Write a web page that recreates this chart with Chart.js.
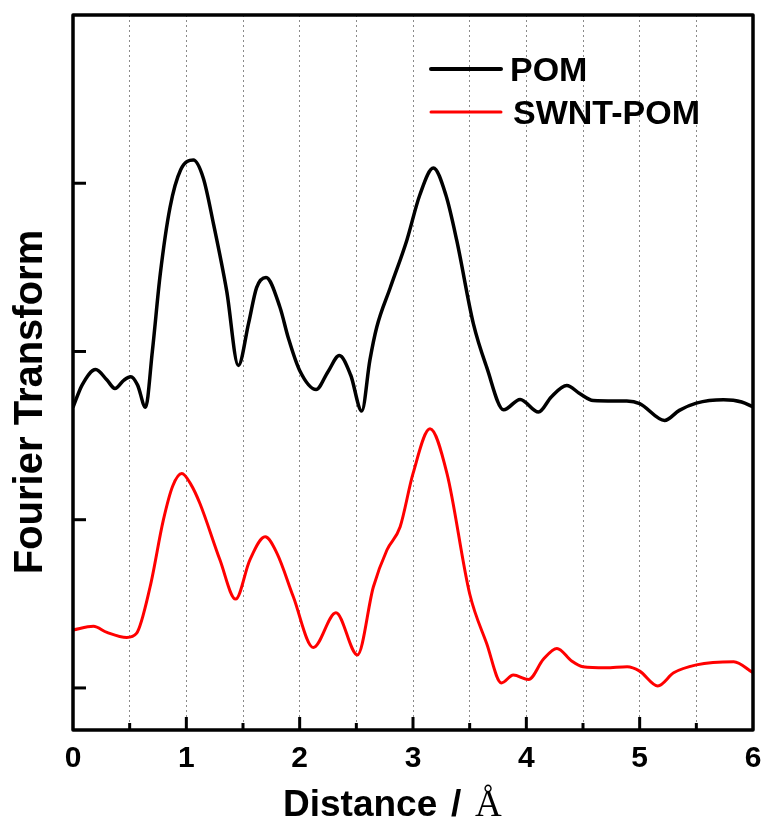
<!DOCTYPE html>
<html>
<head>
<meta charset="utf-8">
<script src="https://cdn.jsdelivr.net/npm/chart.js@4"></script>
<style>
  body { margin: 0; background: #fff; }
  #wrap { width: 768px; height: 823px; }
</style>
</head>
<body>
<div id="wrap"><canvas id="myChart"></canvas></div>
<script>
// POM curve (x in Å, y in arbitrary offset units)
const pomX = [0, 0.08, 0.2, 0.3, 0.37, 0.45, 0.51, 0.57, 0.64, 0.7, 0.77, 0.856, 0.95, 1.062, 1.15, 1.24, 1.356, 1.459,
  1.55, 1.62, 1.703, 1.826, 1.9, 2.0, 2.145, 2.25, 2.35, 2.45, 2.548, 2.62, 2.68, 2.8, 2.945, 3.06, 3.18, 3.29, 3.386,
  3.533, 3.65, 3.8, 3.945, 4.107, 4.22, 4.357, 4.47, 4.59, 4.886, 5.0, 5.22, 5.35, 5.5, 5.74, 5.9, 6.0];
const pomY = [1.668, 1.8, 1.893, 1.83, 1.78, 1.83, 1.85, 1.8, 1.668, 2.0, 2.46, 2.856, 3.08, 3.138, 3.03, 2.757, 2.36, 1.917,
  2.17, 2.38, 2.44, 2.263, 2.08, 1.887, 1.774, 1.88, 1.976, 1.86, 1.646, 1.95, 2.144, 2.38, 2.66, 2.93, 3.09, 2.93, 2.66,
  2.164, 1.907, 1.653, 1.715, 1.64, 1.73, 1.798, 1.75, 1.709, 1.705, 1.69, 1.59, 1.65, 1.693, 1.713, 1.7, 1.67];

// SWNT-POM curve
const swntX = [0, 0.18, 0.3, 0.474, 0.56, 0.68, 0.797, 0.88, 0.96, 1.04, 1.12, 1.297, 1.435, 1.56, 1.695, 1.8, 1.944,
  2.12, 2.32, 2.51, 2.65, 2.77, 2.886, 3.0, 3.15, 3.3, 3.5, 3.65, 3.78, 3.885, 4.02, 4.15, 4.27, 4.4, 4.5, 4.7, 4.89,
  5.0, 5.16, 5.3, 5.5, 5.83, 6.0];
const swntY = [0.344, 0.366, 0.33, 0.3, 0.324, 0.6, 0.997, 1.2, 1.274, 1.21, 1.096, 0.76, 0.528, 0.76, 0.898, 0.8, 0.542,
  0.24, 0.447, 0.196, 0.6, 0.82, 0.957, 1.274, 1.54, 1.274, 0.56, 0.264, 0.03, 0.077, 0.05, 0.17, 0.235, 0.16, 0.126, 0.12, 0.126,
  0.1, 0.012, 0.09, 0.137, 0.156, 0.09];

const xMajorTicks = [1, 2, 3, 4, 5];
const xMinorTicks = [0.5, 1.5, 2.5, 3.5, 4.5, 5.5];
const yTicks = [0, 1, 2, 3];

const seriesNames = ["POM", "SWNT-POM"];
const seriesColors = ["#000000", "#ff0000"];

function toPoints(xs, ys) {
  return xs.map((x, i) => ({ x: x, y: ys[i] }));
}

const framePlugin = {
  id: "frame",
  afterDraw(chart) {
    const ctx = chart.ctx;
    const a = chart.chartArea;
    const xs = chart.scales.x;
    const ys = chart.scales.y;
    ctx.save();
    ctx.strokeStyle = "#000";
    ctx.lineCap = "butt";

    // tick marks, pointing inward
    ctx.lineWidth = 3;
    xMajorTicks.forEach(v => {
      const px = xs.getPixelForValue(v);
      ctx.beginPath(); ctx.moveTo(px, a.bottom); ctx.lineTo(px, a.bottom - 13); ctx.stroke();
    });
    xMinorTicks.forEach(v => {
      const px = xs.getPixelForValue(v);
      ctx.beginPath(); ctx.moveTo(px, a.bottom); ctx.lineTo(px, a.bottom - 7); ctx.stroke();
    });
    yTicks.forEach(v => {
      const py = ys.getPixelForValue(v);
      ctx.beginPath(); ctx.moveTo(a.left, py); ctx.lineTo(a.left + 13, py); ctx.stroke();
    });

    // box
    ctx.lineWidth = 3.5;
    ctx.lineJoin = "round";
    ctx.strokeRect(a.left, a.top, a.right - a.left, a.bottom - a.top);

    // legend
    ctx.lineCap = "round";
    const legendY = [69, 112];
    seriesNames.forEach((name, i) => {
      ctx.strokeStyle = seriesColors[i];
      ctx.lineWidth = i === 0 ? 4 : 3;
      ctx.beginPath(); ctx.moveTo(431, legendY[i]); ctx.lineTo(501, legendY[i]); ctx.stroke();
      ctx.fillStyle = "#000";
      ctx.font = "bold 34px 'Liberation Sans', Arial, sans-serif";
      ctx.textAlign = "left";
      ctx.textBaseline = "alphabetic";
      ctx.fillText(name, i === 0 ? 510 : 513, legendY[i] + 12);
    });

    // axis titles
    ctx.fillStyle = "#000";
    ctx.font = "bold 37px 'Liberation Sans', Arial, sans-serif";
    ctx.textAlign = "left";
    ctx.textBaseline = "alphabetic";
    ctx.fillText("Distance", 283, 816);
    ctx.fillText("/", 451, 816);
    ctx.font = "37px 'Liberation Serif', 'Times New Roman', serif";
    ctx.fillText("Å", 475, 816);

    ctx.translate(42, 402);
    ctx.rotate(-Math.PI / 2);
    ctx.font = "bold 40px 'Liberation Sans', Arial, sans-serif";
    ctx.textAlign = "center";
    ctx.fillText("Fourier Transform", 0, 0);
    ctx.restore();
  }
};

const ctx = document.getElementById("myChart").getContext("2d");

const config = {
  type: "line",
  data: {
    datasets: [
      {
        label: seriesNames[0],
        data: toPoints(pomX, pomY),
        borderColor: seriesColors[0],
        borderWidth: 3.5,
        pointRadius: 0,
        cubicInterpolationMode: "monotone",
      },
      {
        label: seriesNames[1],
        data: toPoints(swntX, swntY),
        borderColor: seriesColors[1],
        borderWidth: 3,
        pointRadius: 0,
        cubicInterpolationMode: "monotone",
      },
    ],
  },
  options: {
    responsive: true,
    maintainAspectRatio: false,
    animation: false,
    layout: { padding: { top: 15, right: 15, left: 0, bottom: 0 } },
    plugins: {
      legend: { display: false },
      tooltip: { enabled: false },
    },
    scales: {
      x: {
        type: "linear",
        min: 0,
        max: 6,
        ticks: {
          stepSize: 0.5,
          autoSkip: false,
          maxRotation: 0,
          padding: 11,
          color: "#000",
          font: { family: "'Liberation Sans', Arial, sans-serif", size: 30, weight: "bold" },
          callback: v => (Number.isInteger(v) ? String(v) : ""),
        },
        grid: {
          drawTicks: false,
          lineWidth: 1,
          color: c => (c.tick && (c.tick.value === 0 || c.tick.value === 6) ? "rgba(0,0,0,0)" : "#8a8a8a"),
        },
        border: { display: false, dash: [2, 3] },
        afterFit: s => { s.height = 93; s.paddingLeft = 0; s.paddingRight = 0; },
      },
      y: {
        type: "linear",
        min: -0.25,
        max: 4,
        ticks: { display: false, stepSize: 1 },
        grid: { display: false, drawTicks: false },
        border: { display: false },
        afterFit: s => { s.width = 73; },
      },
    },
  },
  plugins: [framePlugin],
};

const myChart = new Chart(ctx, config);
</script>
</body>
</html>
